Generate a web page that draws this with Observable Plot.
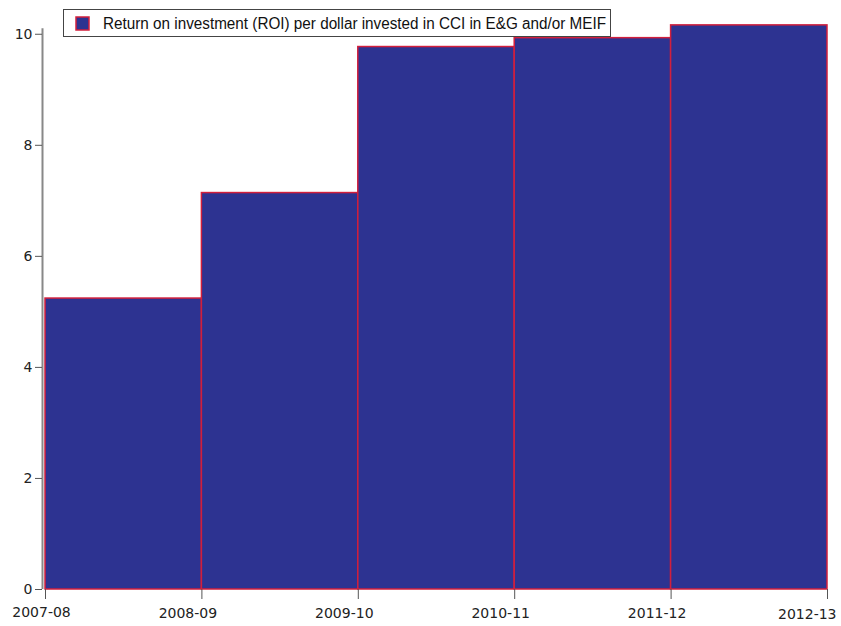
<!DOCTYPE html>
<html>
<head>
<meta charset="utf-8">
<script src="https://cdn.jsdelivr.net/npm/d3@7"></script>
<script src="https://cdn.jsdelivr.net/npm/@observablehq/plot@0.6"></script>
<style>
  html, body { margin: 0; padding: 0; background: #fff; }
  #wrap { position: relative; width: 841px; height: 626px; }
  #legend { position: absolute; left: 0; top: 0; }
</style>
</head>
<body>
<div id="wrap"></div>
<script>
const yearLabels = ["2007-08", "2008-09", "2009-10", "2010-11", "2011-12", "2012-13"];
const roiValues = [5.24, 7.14, 9.77, 9.93, 10.16];
const seriesName = "Return on investment (ROI) per dollar invested in CCI in E&G and/or MEIF";
const yTicks = [0, 2, 4, 6, 8, 10];

const fillColor = "#2d3391";
const strokeColor = "#d21f3c";

const bars = roiValues.map((v, i) => ({x1: i, x2: i + 1, value: v}));
const labelRows = yearLabels.map((label, i) => ({i, label}));
const last = yearLabels.length - 1;

const chart = Plot.plot({
  width: 841,
  height: 626,
  marginLeft: 45,
  marginRight: 14,
  marginTop: 6,
  marginBottom: 37,
  style: {fontFamily: "DejaVu Sans, sans-serif", fontSize: "14px", color: "#222", background: "#fff"},
  x: {domain: [0, last]},
  y: {domain: [0, 10.5]},
  marks: [
    Plot.rect(bars, {x1: "x1", x2: "x2", y1: 0, y2: "value", fill: fillColor, stroke: strokeColor, strokeWidth: 1.5}),
    Plot.ruleX([0], {y1: 0, y2: 10.1, dx: -3, stroke: "#888", strokeWidth: 2}),
    Plot.axisY({ticks: yTicks, tickSize: 7, tickPadding: 3, dx: -3, stroke: "#555", label: null, fontSize: 14}),
    Plot.axisX({ticks: d3.range(yearLabels.length), tickFormat: () => "", tickSize: 10, stroke: "#555", label: null}),
    Plot.text(labelRows.filter(d => d.i === 0), {x: "i", y: 0, text: "label", dy: 23, dx: -4, fontSize: 14, fill: "#222"}),
    Plot.text(labelRows.filter(d => d.i > 0 && d.i < last), {x: "i", y: 0, text: "label", dy: 24, dx: -14, fontSize: 14, fill: "#222"}),
    Plot.text(labelRows.filter(d => d.i === last), {x: "i", y: 0, text: "label", dy: 25, dx: 9, textAnchor: "end", fontSize: 14, fill: "#222"})
  ]
});
document.getElementById("wrap").appendChild(chart);

// Legend overlay
const ns = "http://www.w3.org/2000/svg";
const lg = document.createElementNS(ns, "svg");
lg.setAttribute("id", "legend");
lg.setAttribute("width", 841);
lg.setAttribute("height", 50);
const box = document.createElementNS(ns, "rect");
box.setAttribute("x", 63.5); box.setAttribute("y", 9.5);
box.setAttribute("width", 547); box.setAttribute("height", 27);
box.setAttribute("fill", "#fff"); box.setAttribute("stroke", "#444"); box.setAttribute("stroke-width", 1);
lg.appendChild(box);
const sw = document.createElementNS(ns, "rect");
sw.setAttribute("x", 76); sw.setAttribute("y", 17);
sw.setAttribute("width", 13); sw.setAttribute("height", 13);
sw.setAttribute("fill", fillColor); sw.setAttribute("stroke", strokeColor); sw.setAttribute("stroke-width", 1.5);
lg.appendChild(sw);
const tx = document.createElementNS(ns, "text");
tx.setAttribute("x", 103); tx.setAttribute("y", 28.5);
tx.setAttribute("font-family", "Liberation Sans Narrow, Liberation Sans, sans-serif");
tx.setAttribute("font-size", 16);
tx.setAttribute("fill", "#111");
tx.setAttribute("textLength", 503);
tx.setAttribute("lengthAdjust", "spacingAndGlyphs");
tx.textContent = seriesName;
lg.appendChild(tx);
document.getElementById("wrap").appendChild(lg);
</script>
</body>
</html>
